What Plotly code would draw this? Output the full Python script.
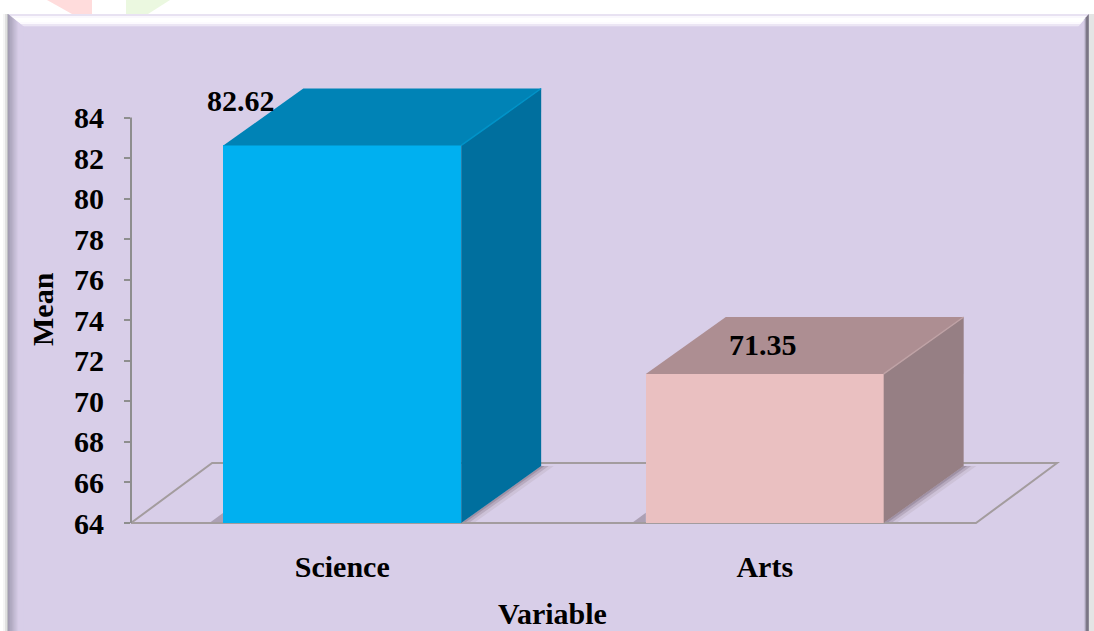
import plotly.graph_objects as go

# Chart content
categories = ["Science", "Arts"]
means = [82.62, 71.35]
y_ticks = [64, 66, 68, 70, 72, 74, 76, 78, 80, 82, 84]

# Box faces: front, top, side, ridge between top and side
front_colors = ["#00B0F0", "#EAC0C1"]
top_colors = ["#0083B6", "#AD8E92"]
side_colors = ["#006F9E", "#967F84"]
ridge_colors = ["#0093C8", "#BFA2A5"]
label_offsets = [(-101, 45), (-2, 29)]

W, H = 1094, 631
# Plot frame in page pixels; the headroom holds the depth of the boxes
L, R, T, B = 131, 1060, 85, 527
FONT = "Liberation Serif"
BAR_WIDTH = 0.563
DEPTH_X, DEPTH_Y = 0.1893, 2.81
FLOOR_X, FLOOR_Y = 0.192, 2.96
Y_MIN = 64
Y_TOP = 84
PX_PER_X = 422.5
PX_PER_Y = 20.275
x_lo = -0.5
x_floor = 1.5
x_hi = x_lo + (R - L) / PX_PER_X
y_lo = Y_MIN - (B - 523) / PX_PER_Y
y_hi = Y_MIN + (523 - T) / PX_PER_Y


def px(x):
    return (x - L) / (R - L)


def py(y):
    return (B - y) / (B - T)


def poly(points):
    return "M" + " L".join(f"{x:.4f},{y:.4f}" for x, y in points) + " Z"


def panel_shape(points, color):
    return dict(type="path", xref="paper", yref="paper", layer="below",
                path=poly([(px(x), py(y)) for x, y in points]),
                fillcolor=color, line_width=0)


def rgb(c):
    return "rgb({},{},{})".format(*c)


def mix(a, b, t):
    return rgb(tuple(round(a[i] + (b[i] - a[i]) * t) for i in range(3)))


LAV = (216, 206, 232)
shapes = []

# Faint decoration along the top of the page
shapes.append(panel_shape([(47, 0), (92, 0), (92, 14), (72, 14)], "#FFDCDC"))
shapes.append(panel_shape([(126, 0), (170, 0), (148, 14), (126, 14)], "#EBF8E0"))

# Outer fade beside the panel
for x0, c in [(0, (255, 255, 255)), (3, (245, 245, 245)), (5, (225, 225, 225)), (7, (190, 190, 195))]:
    shapes.append(panel_shape([(x0, 14), (x0 + 2, 14), (x0 + 2, H), (x0, H)], rgb(c)))
shapes.append(panel_shape([(1089, 14), (W, 14), (W, H), (1089, H)], "#E4E4E4"))

# Panel body
shapes.append(panel_shape([(8, 14), (1089, 14), (1089, H), (8, H)], rgb(LAV)))

# Top bevel
top_stops = [(14, (232, 226, 242)), (16, (250, 248, 253)), (18, (255, 255, 255)), (22, (252, 250, 254)),
             (24, (236, 230, 244)), (26, (222, 213, 236))]
for (y0, c), (y1, _) in zip(top_stops, top_stops[1:] + [(27, LAV)]):
    f0, f1 = (y0 - 14) / 13, (y1 - 14) / 13
    shapes.append(panel_shape([(8 + 16 * f0, y0), (1089 - 11 * f0, y0), (1089 - 11 * f1, y1), (8 + 16 * f1, y1)],
                              rgb(c)))

# Left bevel, dark at the rim
for i in range(16):
    t = i / 15
    c = mix((162, 156, 178), LAV, min(1, t * 1.5))
    xa, xb = 8 + i, 9 + i
    ya, yb = 14 + i * 0.8, 14 + (i + 1) * 0.8
    shapes.append(panel_shape([(xa, ya), (xb, yb), (xb, H), (xa, H)], c))

# Right bevel
for i, c in enumerate([(200, 192, 215), (165, 158, 180), (125, 120, 135), (115, 110, 125), (140, 135, 150)]):
    xa = 1084 + i
    shapes.append(panel_shape([(xa, 26 - (xa - 1078) * 1.1), (xa + 1, 26 - (xa - 1077) * 1.1),
                               (xa + 1, H), (xa, H)], rgb(c)))


def floor_shape(pts, color):
    return dict(type="path", xref="x", yref="y", layer="below", path=poly(pts),
                fillcolor=color, line_width=0)


# Soft shadows the boxes cast on the floor
for i in range(len(categories)):
    right = i + BAR_WIDTH / 2
    left = i - BAR_WIDTH / 2
    for w, col in [(0.03, "#CDC2D8"), (0.018, "#B7AABF"), (0.008, "#9F91A5")]:
        shapes.append(floor_shape([(right, Y_MIN), (right + DEPTH_X, Y_MIN + DEPTH_Y),
                                   (right + DEPTH_X + w, Y_MIN + DEPTH_Y), (right + w, Y_MIN)], col))
    shapes.append(floor_shape([(left, Y_MIN), (left, Y_MIN + 0.5), (left - 0.033, Y_MIN)], "#ACA0B4"))

# Floor of the plot, behind the boxes
shapes.append(dict(type="path", xref="x", yref="y", layer="below",
                   path=poly([(x_lo, Y_MIN), (x_lo + FLOOR_X, Y_MIN + FLOOR_Y),
                               (x_floor + FLOOR_X, Y_MIN + FLOOR_Y), (x_floor, Y_MIN)]),
                   fillcolor="rgba(0,0,0,0)", line=dict(color="#A39C9E", width=2)))

# Vertical axis stops at its last tick even though the frame runs higher
shapes.append(dict(type="line", xref="paper", yref="y", layer="above", x0=0, x1=0, y0=Y_MIN, y1=Y_TOP,
                   line=dict(color="#8E8E8E", width=2)))

fig = go.Figure()

# Front faces rise from the floor of the axis
fig.add_trace(go.Bar(x=list(range(len(categories))), y=[v - Y_MIN for v in means], base=Y_MIN, width=BAR_WIDTH,
                     marker=dict(color=front_colors, line_width=0), showlegend=False, hoverinfo="skip"))

# Top and side faces share the depth offset
for i, v in enumerate(means):
    left, right = i - BAR_WIDTH / 2, i + BAR_WIDTH / 2
    fig.add_trace(go.Scatter(x=[left, left + DEPTH_X, right + DEPTH_X, right, left],
                             y=[v, v + DEPTH_Y, v + DEPTH_Y, v, v],
                             mode="lines", fill="toself", fillcolor=top_colors[i],
                             line=dict(width=0, color=top_colors[i]),
                             showlegend=False, hoverinfo="skip"))
    fig.add_trace(go.Scatter(x=[right, right + DEPTH_X, right + DEPTH_X, right, right],
                             y=[v, v + DEPTH_Y, Y_MIN + DEPTH_Y, Y_MIN, v],
                             mode="lines", fill="toself", fillcolor=side_colors[i],
                             line=dict(width=0, color=side_colors[i]),
                             showlegend=False, hoverinfo="skip"))
    fig.add_trace(go.Scatter(x=[right, right + DEPTH_X], y=[v, v + DEPTH_Y], mode="lines",
                             line=dict(width=1.5, color=ridge_colors[i]),
                             showlegend=False, hoverinfo="skip"))

text_font = dict(family=FONT, size=30, color="black")
annotations = [
    dict(x=i, y=v, text=f"<b>{v:.2f}</b>", showarrow=False, xanchor="center", yanchor="middle",
         xshift=label_offsets[i][0], yshift=label_offsets[i][1], font=text_font)
    for i, v in enumerate(means)
]
# Axis titles are placed against the page so they can sit off the frame's centre
annotations.append(dict(xref="paper", yref="paper", x=px(552.5), y=py(613.5), text="<b>Variable</b>", showarrow=False,
                        xanchor="center", yanchor="middle", font=text_font))
annotations.append(dict(xref="paper", yref="paper", x=px(42), y=py(309), text="<b>Mean</b>", showarrow=False,
                        textangle=-90, xanchor="center", yanchor="middle", font=text_font))

fig.update_layout(
    width=W, height=H, margin=dict(l=L, r=W - R, t=T, b=H - B, autoexpand=False),
    paper_bgcolor="white", plot_bgcolor="rgba(0,0,0,0)",
    shapes=shapes, annotations=annotations, bargap=0,
    xaxis=dict(range=[x_lo, x_hi], tickmode="array", tickvals=[0, 1], ticktext=[f"<b>{c}</b>" for c in categories],
               ticks="", showgrid=False, zeroline=False, showline=False,
               ticklabelstandoff=19, tickfont=text_font),
    yaxis=dict(range=[y_lo, y_hi], tickmode="array", tickvals=y_ticks, ticktext=[f"<b>{t}</b>" for t in y_ticks],
               ticks="outside", ticklen=6, tickwidth=2,
               tickcolor="#8E8E8E", showgrid=False, zeroline=False, showline=False,
               ticklabelstandoff=14, tickfont=text_font),
)

fig.write_html("out.html", config=dict(displayModeBar=False))
